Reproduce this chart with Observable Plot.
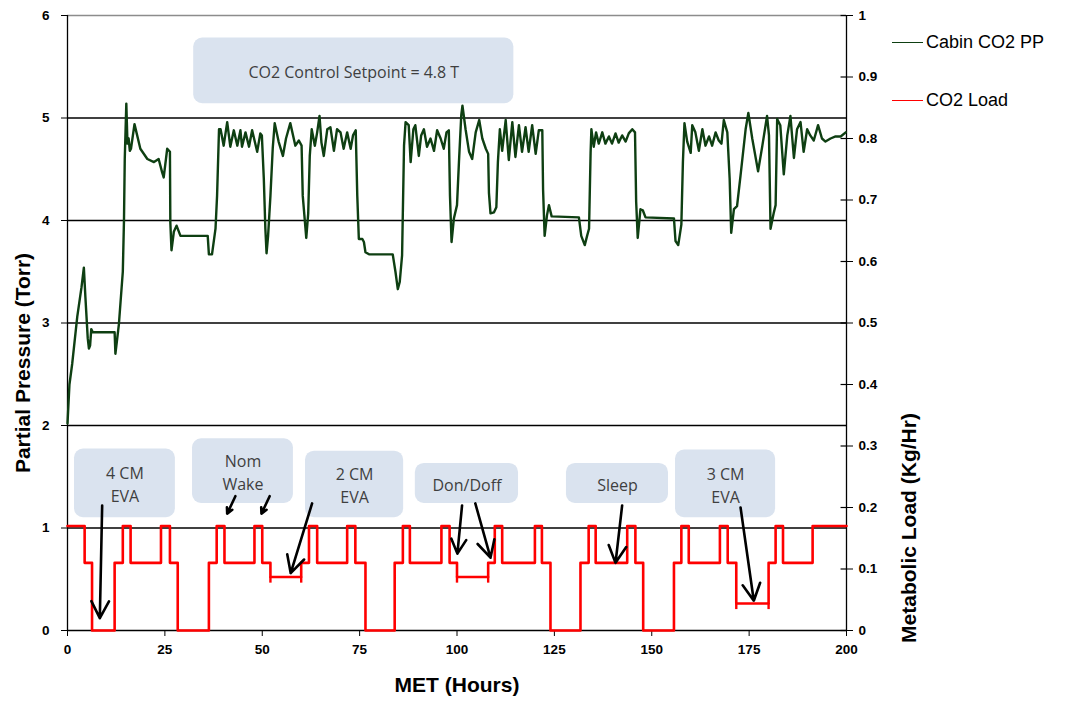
<!DOCTYPE html>
<html>
<head>
<meta charset="utf-8">
<script src="https://cdn.jsdelivr.net/npm/d3@7"></script>
<script src="https://cdn.jsdelivr.net/npm/@observablehq/plot@0.6"></script>
<style>
  html, body { margin: 0; padding: 0; background: #fff; }
  #wrap { position: relative; width: 1078px; height: 704px; }
  .leg { position: absolute; left: 892px; font: 18px "Liberation Sans", Arial, sans-serif; color: #000; display: flex; align-items: center; }
  .leg span.sw { display: inline-block; width: 31px; height: 0; border-top: 1.2px solid; margin-right: 3px; }
</style>
</head>
<body>
<div id="wrap"></div>
<script>
// ---------- data ----------
const xTicks = [0, 25, 50, 75, 100, 125, 150, 175, 200];
const leftTicks = [0, 1, 2, 3, 4, 5, 6];
const rightTicks = [0, 0.1, 0.2, 0.3, 0.4, 0.5, 0.6, 0.7, 0.8, 0.9, 1];
const gridTorr = [1, 2, 3, 4, 5];

// Cabin CO2 partial pressure [MET hours, Torr]
const cabinCO2 = [
[0,2.02],[0.5,2.4],[1.2,2.6],[2.5,3.06],[3.6,3.35],[4.2,3.54],[4.6,3.25],[5.2,2.85],[5.5,2.75],[5.8,2.78],[6.1,2.94],[6.5,2.91],[12.1,2.91],[12.3,2.70],[13.2,2.99],[14.2,3.5],[14.5,4.0],[14.7,4.6],[15.1,5.14],[15.4,4.75],[15.7,4.80],[16.0,4.68],[16.3,4.7],[17.2,4.94],[18.7,4.70],[20.5,4.60],[22.2,4.57],[23.4,4.60],[24.3,4.47],[24.7,4.42],[25.6,4.70],[26.3,4.67],[26.4,3.98],[26.7,3.71],[27.3,3.89],[28.0,3.95],[29.0,3.85],[36.0,3.85],[36.3,3.67],[37.1,3.67],[38.0,3.92],[38.4,4.24],[38.9,4.89],[39.3,4.89],[40.1,4.73],[41.0,4.96],[41.8,4.72],[42.7,4.88],[43.6,4.73],[44.4,4.88],[44.8,4.72],[45.7,4.86],[46.6,4.72],[47.4,4.88],[48.7,4.67],[49.5,4.85],[49.9,4.83],[50.4,4.41],[50.8,3.92],[51.1,3.68],[51.5,3.85],[52.1,4.24],[52.7,4.71],[53.2,4.95],[54.2,4.77],[55.3,4.63],[56.1,4.80],[57.2,4.95],[58.5,4.73],[59.4,4.78],[60.1,4.73],[60.4,4.24],[61.3,3.83],[61.8,4.07],[62.2,4.63],[62.7,4.89],[63.5,4.73],[64.1,4.86],[64.7,5.02],[65.2,4.76],[65.8,4.63],[66.7,4.89],[67.5,4.91],[68.4,4.68],[69.2,4.89],[70.1,4.86],[70.9,4.70],[71.8,4.86],[72.7,4.70],[73.3,4.83],[74.0,4.88],[74.4,4.24],[74.8,3.82],[75.7,3.82],[76.1,3.79],[76.5,3.69],[77.4,3.67],[83.5,3.67],[84.2,3.50],[84.8,3.33],[85.3,3.40],[85.9,3.66],[86.4,4.73],[86.8,4.96],[87.6,4.93],[88.1,4.57],[88.8,4.89],[89.3,4.93],[90.2,4.63],[90.8,4.83],[91.5,4.89],[92.3,4.72],[93.2,4.80],[94.1,4.68],[94.9,4.88],[95.8,4.80],[96.6,4.70],[97.3,4.86],[97.9,4.88],[98.2,4.24],[98.6,3.79],[99.2,4.02],[100.0,4.15],[100.5,4.57],[101.1,5.03],[101.4,5.12],[102.2,4.89],[103.1,4.67],[103.9,4.60],[104.8,4.86],[105.7,4.98],[106.5,4.80],[107.4,4.70],[108.0,4.65],[108.2,4.27],[108.6,4.07],[109.5,4.08],[110.1,4.13],[110.5,4.57],[111.0,4.89],[111.6,4.68],[112.5,4.98],[113.3,4.59],[114.2,4.96],[115.0,4.62],[115.9,4.93],[116.7,4.67],[117.6,4.91],[118.4,4.67],[119.3,4.93],[120.2,4.65],[121.0,4.88],[121.9,4.88],[122.1,4.30],[122.5,3.85],[123.1,4.05],[123.6,4.15],[124.3,4.04],[131.3,4.03],[131.9,3.85],[132.8,3.76],[133.4,3.85],[133.9,3.92],[134.3,4.66],[134.5,4.89],[135.1,4.72],[135.7,4.86],[136.4,4.75],[137.3,4.86],[138.1,4.75],[139.0,4.82],[139.8,4.75],[140.7,4.85],[141.5,4.76],[142.4,4.83],[143.3,4.77],[144.1,4.85],[145.0,4.89],[145.7,4.86],[146.0,4.18],[146.4,3.83],[147.1,4.11],[147.7,4.10],[148.4,4.03],[155.7,4.02],[156.1,3.80],[156.8,3.76],[157.6,3.96],[158.0,4.57],[158.4,4.95],[159.1,4.77],[160.0,4.66],[160.4,4.93],[161.2,4.86],[162.1,4.68],[163.0,4.89],[163.8,4.73],[164.7,4.82],[165.5,4.73],[166.4,4.86],[167.2,4.78],[167.9,4.75],[168.5,4.98],[169.4,4.86],[170.0,4.41],[170.4,3.88],[171.1,4.11],[171.9,4.14],[172.8,4.44],[174.1,4.89],[174.8,5.05],[175.8,4.80],[177.3,4.48],[178.4,4.73],[179.6,5.02],[180.1,4.83],[180.5,3.92],[181.3,4.07],[181.8,4.15],[182.2,4.99],[183.0,4.93],[183.9,4.45],[184.8,4.83],[185.6,5.02],[186.5,4.61],[187.3,4.89],[188.2,4.96],[189.0,4.67],[189.9,4.89],[190.7,4.83],[191.6,4.78],[192.7,4.93],[193.7,4.80],[194.6,4.77],[195.9,4.80],[197.2,4.82],[198.5,4.82],[199.8,4.86]
];

// CO2 load (metabolic load, kg/hr) step series: start hour of each step and its level
const loadHours = [0,4.4,6.3,12.1,14.2,16.2,24.0,26.3,28.3,36.3,38.3,40.3,48.0,50.0,52.1,60.0,62.0,64.1,71.8,73.9,76.5,84.0,86.1,87.9,96.0,98.1,100.0,108.0,109.7,111.6,120.0,121.8,124.0,131.7,133.8,135.6,143.7,145.8,147.8,155.7,157.6,159.5,167.5,169.5,171.7,180.0,181.8,183.7,191.3,200];
const loadLevels = [0.17,0.11,0,0.11,0.17,0.11,0.17,0.11,0,0.11,0.17,0.11,0.17,0.11,0.087,0.11,0.17,0.11,0.17,0.11,0,0.11,0.17,0.11,0.17,0.11,0.087,0.11,0.17,0.11,0.17,0.11,0,0.11,0.17,0.11,0.17,0.11,0,0.11,0.17,0.11,0.17,0.11,0.044,0.11,0.17,0.11,0.17,0.17];

// annotation callouts (hours / Torr)
const calloutLabels = ["CO2 Control Setpoint = 4.8 T", "4 CM\nEVA", "Nom\nWake", "2 CM\nEVA", "Don/Doff", "Sleep", "3 CM\nEVA"];
const calloutX1 = [32.4, 1.8, 32.1, 61.1, 89.3, 128.1, 156.1];
const calloutX2 = [114.6, 27.7, 58.0, 86.3, 115.8, 154.3, 181.8];
const calloutY1 = [5.78, 1.77, 1.87, 1.75, 1.63, 1.63, 1.76];
const calloutY2 = [5.14, 1.10, 1.24, 1.10, 1.24, 1.24, 1.10];
const arrowFrom = [[8.9,1.22],[43.1,1.31],[51.9,1.31],[62.8,1.24],[101.3,1.22],[104.7,1.24],[142.4,1.22],[172.8,1.20]];
const arrowTo   = [[8.3,0.12],[41.0,1.14],[49.8,1.14],[57.3,0.56],[100.1,0.75],[108.6,0.71],[140.7,0.66],[176.2,0.29]];

// ---------- build ----------
const ratio = 6; // right axis (0..1 kg/hr) maps onto left axis (0..6 Torr)
const green = cabinCO2.map(([h, t]) => ({h, t}));
const red = loadHours.map((h, i) => ({h, v: loadLevels[i] * ratio}));
// small end caps below the reduced-load EVA / Don-Doff steps
const caps = [];
loadLevels.forEach((lv, i) => {
  if (lv > 0 && lv < 0.1 && i + 1 < loadHours.length) {
    for (const h of [loadHours[i], loadHours[i + 1]]) caps.push({h, v1: lv * ratio, v2: (lv - 0.01) * ratio});
  }
});
const callouts = calloutLabels.map((label, i) => ({
  label, x1: calloutX1[i], x2: calloutX2[i], y1: calloutY1[i], y2: calloutY2[i],
  cx: (calloutX1[i] + calloutX2[i]) / 2, cy: (calloutY1[i] + calloutY2[i]) / 2
}));
const arrows = arrowFrom.map((a, i) => ({x1: a[0], y1: a[1], x2: arrowTo[i][0], y2: arrowTo[i][1]}));

const font = '"Liberation Sans", Arial, sans-serif';

const chart = Plot.plot({
  width: 1078, height: 704,
  marginTop: 15, marginRight: 232, marginBottom: 74, marginLeft: 67,
  x: {domain: [0, 200]},
  y: {domain: [0, 6]},
  style: {fontFamily: font, fontWeight: "bold", background: "#fff", color: "#000"},
  marks: [
    Plot.ruleY(gridTorr, {stroke: "#000", strokeWidth: 1.3}),
    Plot.ruleY([6], {stroke: "#8c8c8c", strokeWidth: 1.5}),
    Plot.ruleY([0], {stroke: "#000", strokeWidth: 1.3}),
    Plot.ruleX([0, 200], {stroke: "#000", strokeWidth: 1.3}),
    Plot.axisX(xTicks, {anchor: "bottom", tickSize: 6, tickPadding: 8, fontSize: 13.5, label: null, tickFormat: d => String(d)}),
    Plot.axisY(leftTicks, {anchor: "left", tickSize: 6, tickPadding: 12, fontSize: 13.5, label: null, tickFormat: d => String(d)}),
    Plot.axisY(rightTicks.map(v => v * ratio), {anchor: "right", tickSize: 6, tickPadding: 6, fontSize: 13.5, label: null,
      tickFormat: d => d3.format("~g")(+(d / ratio).toFixed(2))}),
    Plot.ruleY(rightTicks.map(v => v * ratio), {x1: 198.6, x2: 200, stroke: "#000", strokeWidth: 1.2}),
    // callout boxes
    Plot.rect(callouts, {x1: "x1", x2: "x2", y1: "y1", y2: "y2", fill: "#dae3ef", rx: 9}),
    Plot.text(callouts, {x: "cx", y: "cy", text: "label", fontSize: 16, fill: "#3f3f3f", fontWeight: "normal", lineHeight: 1.42, fontFamily: '"Open Sans", "Liberation Sans", sans-serif'}),
    // series
    Plot.ruleX(caps, {x: "h", y1: "v1", y2: "v2", stroke: "#ff0000", strokeWidth: 2.4}),
    Plot.line(red, {x: "h", y: "v", curve: "step-after", stroke: "#ff0000", strokeWidth: 2.6}),
    Plot.line(green, {x: "h", y: "t", stroke: "#0e3f12", strokeWidth: 2.4, strokeLinejoin: "round"}),
    Plot.arrow(arrows, {x1: "x1", y1: "y1", x2: "x2", y2: "y2", stroke: "#000", strokeWidth: 2.6, headLength: 11, headAngle: 55}),
    // axis titles
    Plot.text(["Partial Pressure (Torr)"], {frameAnchor: "left", textAnchor: "middle", rotate: -90, dx: -44, dy: 40, fontSize: 21, fontWeight: "bold"}),
    Plot.text(["Metabolic Load (Kg/Hr)"], {frameAnchor: "right", textAnchor: "middle", rotate: -90, dx: 63, dy: 205, fontSize: 21, fontWeight: "bold"}),
    Plot.text(["MET (Hours)"], {frameAnchor: "bottom", dy: 61, fontSize: 21, fontWeight: "bold"})
  ]
});

const wrap = document.getElementById("wrap");
wrap.appendChild(chart);
const legend = [["Cabin CO2 PP", "#0e3f12", 43], ["CO2 Load", "#ff0000", 101]];
for (const [name, color, y] of legend) {
  const d = document.createElement("div");
  d.className = "leg";
  d.style.top = (y - 11) + "px";
  d.innerHTML = `<span class="sw" style="border-color:${color}"></span>${name}`;
  wrap.appendChild(d);
}
</script>
</body>
</html>
